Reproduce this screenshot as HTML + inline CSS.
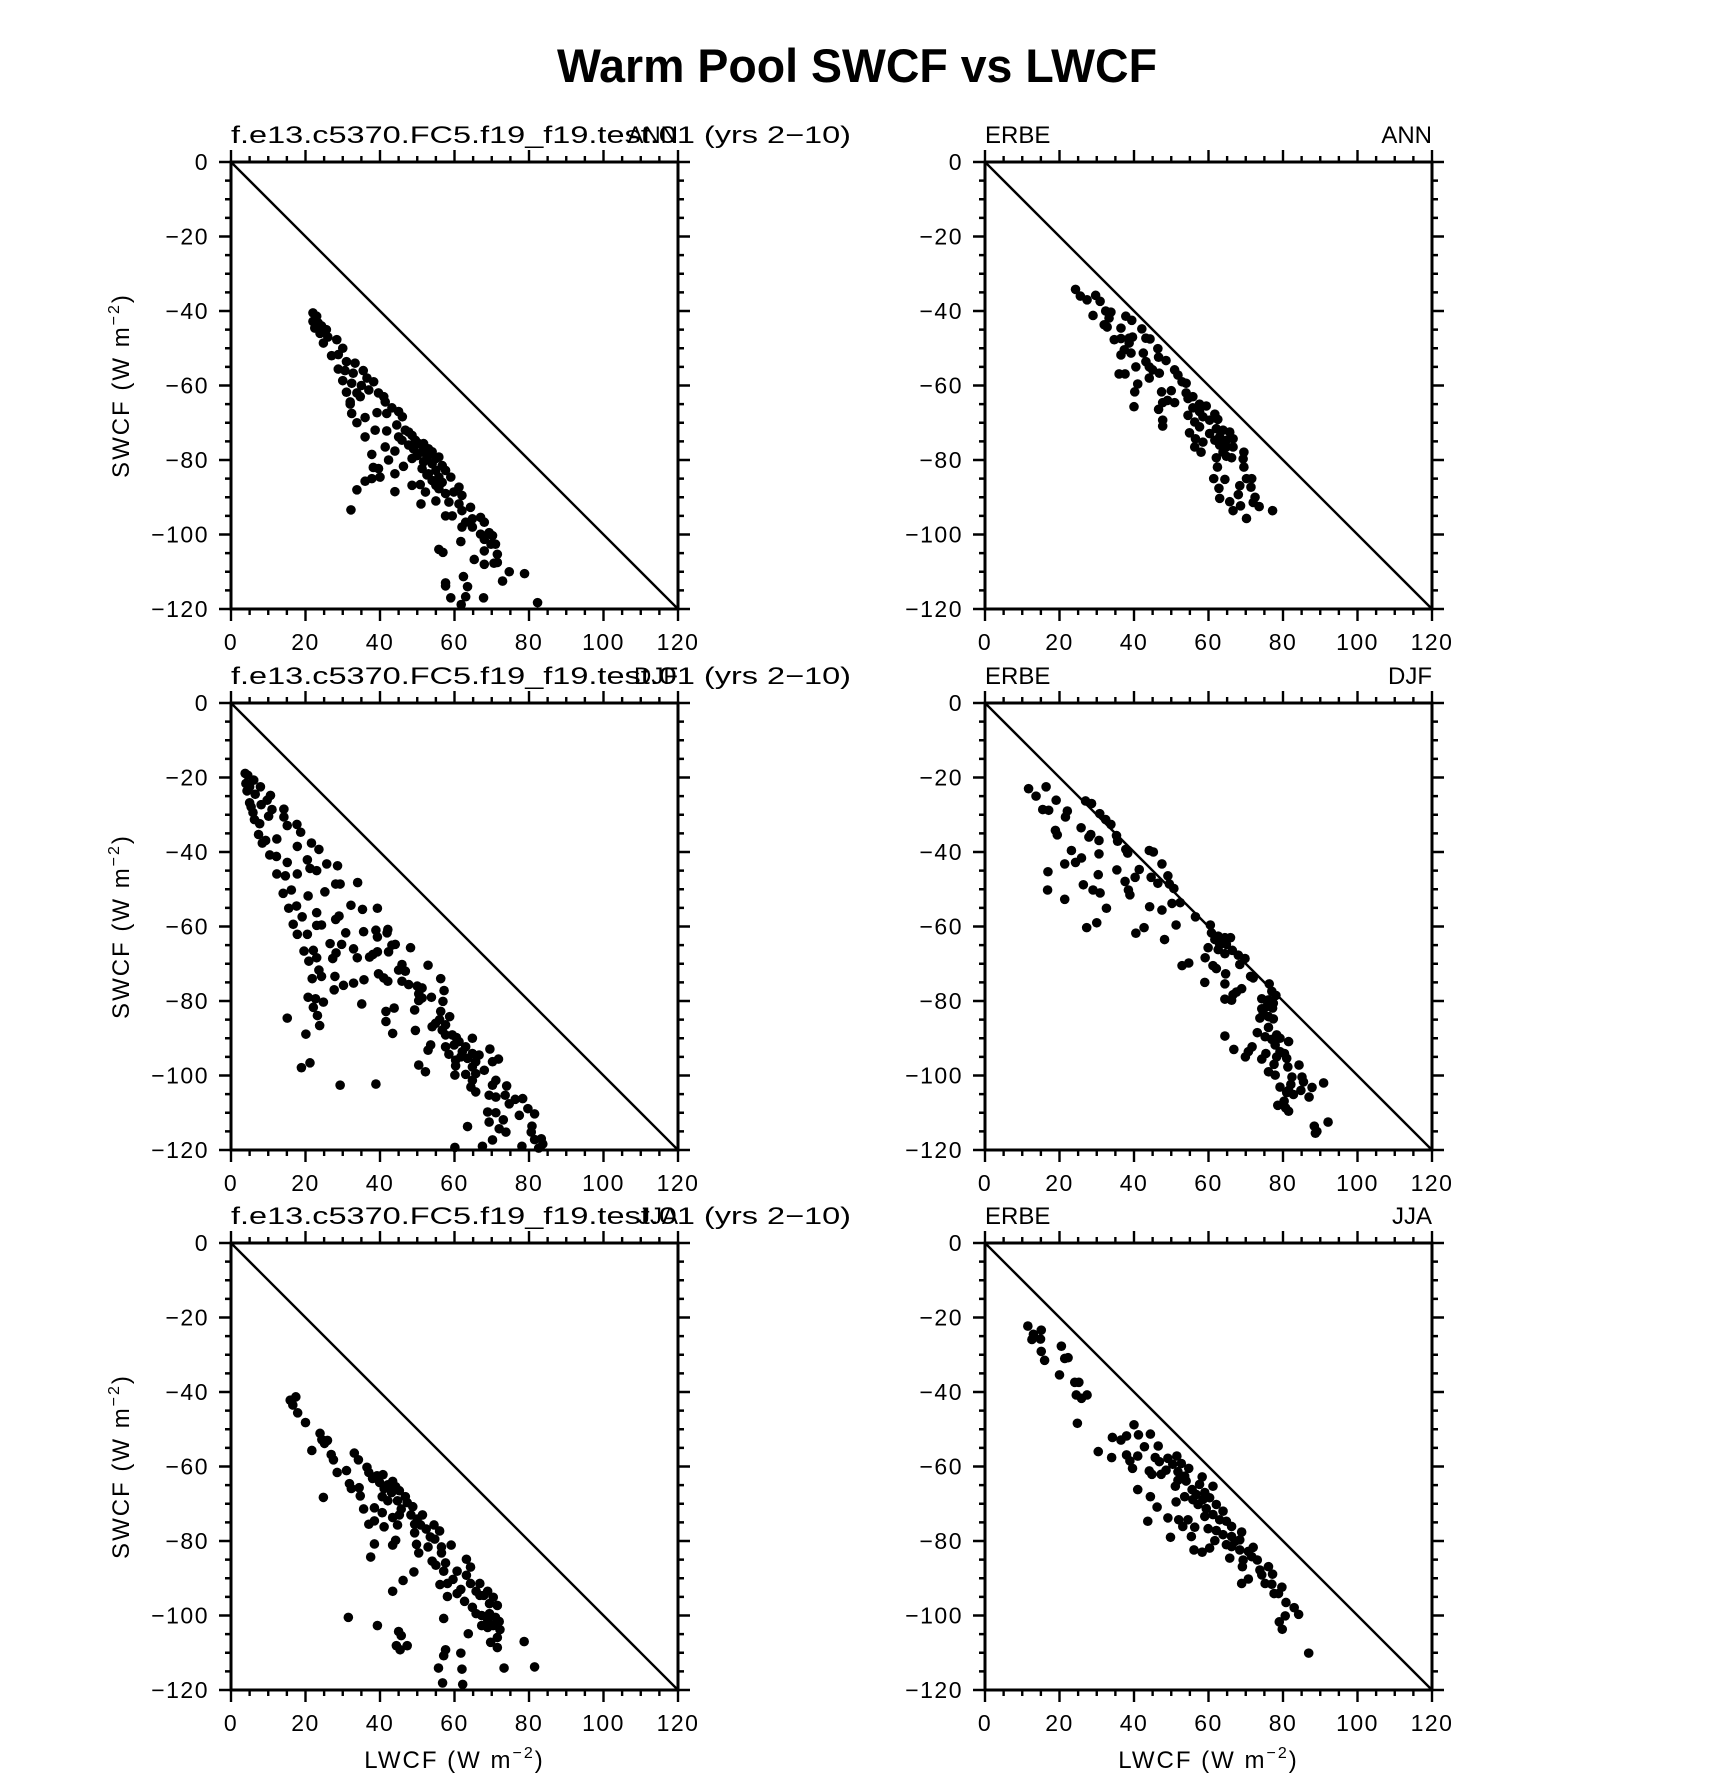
<!DOCTYPE html>
<html><head><meta charset="utf-8"><title>Warm Pool SWCF vs LWCF</title>
<style>html,body{margin:0;padding:0;background:#fff}svg{display:block}text{font-family:"Liberation Sans",sans-serif;fill:#000}</style>
</head><body>
<svg id="fig" xmlns="http://www.w3.org/2000/svg" width="1710" height="1779" viewBox="0 0 1710 1779">
<text x="857" y="82" text-anchor="middle" font-size="47" font-weight="bold" textLength="600" lengthAdjust="spacingAndGlyphs">Warm Pool SWCF vs LWCF</text>
</svg>
<script>
const xTicks=[0,20,40,60,80,100,120];
const yTicks=[0,-20,-40,-60,-80,-100,-120];
const tickLabelsX=["0","20","40","60","80","100","120"];
const tickLabelsY=["0","\u221220","\u221240","\u221260","\u221280","\u2212100","\u2212120"];
const xDomain=[0,120];
const yDomain=[-120,0];
const panelNames=["ann-model","ann-erbe","djf-model","djf-erbe","jja-model","jja-erbe"];
const leftTitles=["f.e13.c5370.FC5.f19_f19.test.01 (yrs 2\u221210)","ERBE","f.e13.c5370.FC5.f19_f19.test.01 (yrs 2\u221210)","ERBE","f.e13.c5370.FC5.f19_f19.test.01 (yrs 2\u221210)","ERBE"];
const rightTitles=["ANN","ANN","DJF","DJF","JJA","JJA"];

const annModel=[[22,-40.5],[23,-41.4],[22,-42.8],[23.4,-43.2],[22.5,-44.6],[24.3,-44],[23.9,-46],[25.6,-45],[26,-47],[24.8,-48.6],[28.4,-47.7],[27,-52],[30,-50],[28.8,-51.7],[31,-53.6],[33.3,-54],[28.8,-55.6],[30.6,-56],[35.5,-56],[32.8,-56.7],[30,-58.7],[32.4,-59.4],[36.5,-58],[38.3,-59],[35,-60],[37,-61.2],[39.6,-62],[31,-61.8],[33.8,-62],[32,-64.4],[34.7,-63],[41,-63],[41.4,-64.4],[43.2,-66],[45,-67],[32,-65],[32.4,-67.5],[39.2,-67.3],[41.8,-67.5],[46,-68.4],[36,-68.6],[33.8,-70],[44.5,-70.6],[38.7,-72],[41.8,-72.2],[46.8,-72],[47.7,-72.5],[45,-73.8],[48.6,-73.4],[36,-73.8],[45.9,-74.7],[49.5,-74.7],[50.4,-75.6],[51.7,-75.6],[47.7,-76],[41.4,-76.5],[49,-77],[53,-77],[51.3,-77.8],[54,-77.8],[44,-77.6],[37.8,-78.5],[50,-78.8],[52.6,-79.2],[55,-79.6],[55.8,-79.2],[48.6,-79.6],[42.3,-80],[51.7,-80.5],[54,-81],[56.7,-81.5],[46.3,-81.7],[38.2,-82],[39.6,-82.3],[51.3,-82.3],[55,-82.8],[57.6,-82.8],[53,-83.7],[44,-83.7],[52.6,-84],[55.8,-84.6],[59,-84.6],[40,-84.6],[37.8,-85],[36,-85.7],[54,-85.5],[56.7,-86],[55,-86.8],[48.6,-86.8],[50.8,-86.6],[61.2,-87.3],[33.8,-88],[44,-88.5],[55.8,-87.7],[52.2,-88.6],[57.6,-89],[59.8,-88.6],[62,-89.5],[55,-91],[58.5,-91.3],[61.2,-91.8],[51,-91.8],[64.3,-92.7],[62,-93.6],[57.6,-95],[59.4,-95],[64.8,-95.8],[67,-95.4],[63,-96.7],[68,-96.7],[62,-98],[64.8,-98],[67,-99.9],[69.3,-99.5],[70.2,-100.3],[68,-101.3],[71,-102.6],[69.8,-102.6],[32.2,-93.4],[61.7,-101.9],[55.8,-104],[56.9,-104.8],[71.5,-105.3],[68,-104.4],[65.3,-106.7],[68,-108],[70.6,-107.7],[71.5,-107.5],[74.7,-110],[78.8,-110.5],[72.9,-112.5],[62.4,-111.3],[57.6,-113],[57.6,-113.8],[63.5,-114],[59,-117],[63,-116.7],[67.8,-117],[61.8,-118.8],[82.3,-118.3]];
const annErbe=[[24.3,-34.2],[25.6,-36],[27.4,-37],[29.7,-35.8],[30.9,-37.4],[29,-41.2],[32.4,-40],[33.8,-40.3],[33.3,-41.9],[32,-43.7],[32.8,-44.3],[37.8,-41.4],[39.4,-42.5],[36.5,-44.6],[42.1,-44.8],[34.7,-47.7],[36.5,-47.4],[38.7,-47.3],[39.6,-47],[43.2,-47.3],[44.3,-47.5],[38.7,-48.6],[37.4,-50.4],[36.5,-51.8],[39.2,-51.3],[42.5,-51.3],[46.4,-50.1],[46.6,-52.4],[48.6,-53.3],[43.2,-53.6],[44.1,-55],[40.5,-55],[45,-55.8],[46.8,-56.7],[44.1,-58],[36,-56.9],[37.6,-56.9],[50.9,-55.8],[51.8,-57.2],[52.9,-59],[54,-59.4],[41,-59.6],[40.2,-61.7],[47.4,-61.7],[50,-61.4],[54,-62],[55.8,-63],[54.5,-63.5],[47.7,-64.6],[49,-64],[50.9,-64.6],[57.6,-65],[59.4,-65.5],[55.8,-66],[40,-65.7],[46.6,-66.4],[57.6,-67],[54.5,-68],[58.5,-68.4],[61.7,-67.7],[60.3,-69.3],[62.5,-69.1],[47.7,-69.3],[47.7,-70.9],[56.3,-69.8],[57.6,-71.1],[62.1,-71.6],[63.9,-72],[65.7,-72.5],[60.3,-72.9],[54.9,-72.7],[63,-73.8],[64.8,-74.7],[66.6,-74.3],[61.7,-74.7],[58.5,-75.2],[56.5,-74.3],[63,-76],[64.8,-76.5],[66.6,-76.5],[56.3,-76.5],[69.5,-77.9],[63.9,-77.9],[58,-77.9],[62.1,-79.4],[66.2,-79.4],[69.3,-79.7],[64.8,-79],[62.4,-81.9],[69.5,-81.9],[61.4,-85],[64.4,-85.2],[70.2,-85],[71.6,-85],[62.8,-87.6],[68.4,-86.9],[71.4,-87.3],[68,-89.3],[63,-90.3],[72.5,-90],[65.7,-91.2],[72,-91.4],[68.6,-92.3],[73.6,-92.5],[66.6,-93.6],[77.2,-93.6],[70.2,-95.7]];
const djfModel=[[3.8,-18.9],[4.5,-19.4],[6.1,-20.7],[4,-21.6],[5,-22.5],[7.9,-22.5],[4.3,-23.6],[6.5,-24.5],[10.6,-24.8],[9.7,-26.1],[5,-26.8],[8.1,-27.3],[5.4,-27.9],[11,-28.6],[14.2,-28.5],[5.9,-29.4],[10.1,-30.4],[14.2,-30.6],[6.3,-31.3],[7.7,-32.4],[15.1,-32.9],[17.7,-32.6],[18.7,-34.7],[7.4,-35.3],[12.3,-36.5],[9.3,-36.9],[8.4,-37.6],[21.6,-37.6],[17.8,-38.5],[23.6,-39.3],[10.4,-40.8],[12.2,-41.2],[15.1,-42.8],[20.5,-42.1],[25.7,-43.2],[28.6,-43.7],[21.2,-44.4],[23,-45],[12.3,-45.9],[14.6,-46.4],[17.8,-45.9],[28.1,-48.6],[29.3,-48.6],[34,-48.2],[16.2,-50.2],[14,-51.1],[25.2,-50.7],[20.7,-51.8],[17.6,-54.5],[15.5,-55.1],[32.2,-54.3],[35.3,-55.4],[39.3,-55.1],[23,-56.3],[19.1,-57.4],[29,-57.2],[28.1,-58.1],[16.7,-59.4],[23,-59.7],[24.3,-59.6],[38.9,-61],[42.1,-60.8],[35.6,-61.4],[30.8,-61.7],[20.5,-62.1],[17.8,-62.1],[41.9,-61.7],[39.3,-62.8],[26.6,-64.6],[29.7,-64.8],[43.2,-65],[44.1,-64.8],[48.2,-65.7],[32.9,-66],[42.3,-66.8],[19.6,-66.6],[22.1,-66.4],[28.2,-67.1],[39.3,-66.8],[38.1,-67.5],[37.2,-68.2],[33.9,-68.4],[23,-68.4],[27.3,-68.6],[20.9,-69.3],[45.9,-70.2],[52.9,-70.4],[45,-71.7],[23.6,-71.7],[46.8,-72],[39.6,-72.7],[24.3,-73.4],[27.9,-73.4],[21.8,-74],[41,-73.8],[42.1,-74.7],[35.7,-74.3],[45.9,-74.7],[56.3,-74],[47.7,-75.6],[50,-76],[32.9,-75.2],[30.2,-75.8],[51.3,-76.5],[27.7,-77],[57.2,-77.2],[50.4,-78.1],[51.3,-79.2],[53.8,-79],[20.7,-79],[22.7,-79.4],[50.4,-79.9],[56.9,-80.1],[24.8,-80.3],[35.1,-80.8],[22.1,-81.7],[43.8,-81.9],[49.3,-82.4],[41.6,-82.8],[56.3,-82.8],[23.2,-83.9],[15.1,-84.6],[58.7,-84.2],[56,-85],[41.6,-85.5],[54.9,-86],[54,-86.9],[57.6,-86.4],[23.8,-86.6],[56.7,-87.8],[49.5,-87.9],[43.4,-88.7],[20.1,-88.9],[57.6,-89.1],[59.4,-89.1],[60.5,-89.8],[64.8,-90],[61.2,-90.9],[59.9,-91.8],[53.6,-91.8],[57.6,-92.3],[63,-92.3],[69.5,-92.9],[52.9,-93.2],[62.1,-93.6],[64.8,-94.1],[66.6,-94.5],[58.5,-94.3],[61.7,-95],[63.5,-95.4],[71.8,-95.6],[60.3,-95.9],[65.7,-96.3],[70.2,-96.3],[50.4,-97.2],[60.3,-97.4],[64.8,-97.7],[68,-98.6],[21.2,-96.6],[18.9,-97.9],[52.2,-99],[63,-99.7],[65.7,-99.5],[60.1,-99.9],[71.1,-101.3],[64.8,-101.3],[29.3,-102.6],[38.9,-102.3],[70.2,-102.6],[64.4,-103.1],[65.7,-104.4],[69.3,-105.3],[74,-102.8],[73.6,-105.3],[71.1,-105.8],[76.3,-106.4],[74.7,-107.6],[78.3,-106.2],[79.7,-108.9],[81.5,-110.3],[68.9,-109.8],[71.1,-110],[77.4,-110.7],[69.3,-112.5],[73.1,-111.9],[63.5,-113.7],[72,-114.3],[73.8,-115.2],[80.8,-113.6],[80.6,-115.2],[70.2,-117.3],[81.5,-117.2],[83.3,-117],[83.7,-118.4],[82.6,-119.5],[60.1,-119.3],[67.5,-119],[78.1,-119]];
const djfErbe=[[11.7,-23],[16.4,-22.5],[13.7,-25],[19.1,-26.1],[15.5,-28.6],[17.1,-28.8],[27,-26.3],[28.6,-27],[22.1,-29],[21.6,-30.6],[30.8,-29.7],[32.4,-31.3],[33.8,-32.6],[18.9,-34.2],[19.4,-35.4],[25.8,-33.5],[28.4,-35.3],[27.9,-36],[30.6,-36.9],[35.3,-35.6],[35.6,-37.1],[37.8,-39.3],[38.3,-40.3],[44.1,-39.6],[45.2,-40],[23.2,-39.6],[30.6,-40.5],[25.9,-41.6],[24.3,-42.8],[21.4,-43.2],[47.5,-43.2],[16.9,-45.3],[35.4,-44.8],[41.4,-44.7],[30.4,-46.1],[40.3,-46.8],[44.6,-46.8],[49.1,-46.4],[37.6,-47.9],[46.4,-48.4],[26.4,-48.8],[49.5,-48.6],[50.7,-49.8],[16.8,-50.2],[29,-50.2],[30.9,-51],[38.5,-50.2],[38.9,-51.5],[21.4,-52.7],[52.4,-53.6],[50.2,-53.8],[32.6,-55.1],[44.2,-54.7],[47.5,-55.6],[56.5,-57.4],[30,-59],[51.3,-59.6],[60.5,-59.6],[27.3,-60.3],[42.7,-60.3],[40.5,-61.8],[60.8,-61.7],[62.6,-62.6],[64.4,-63],[65.9,-63],[61.7,-63.5],[48.2,-63.5],[63,-64.8],[64.8,-64.8],[59.9,-65.7],[62.6,-66.2],[66.4,-66.4],[64.4,-67.3],[68,-67.7],[69.8,-68.6],[59.1,-68.4],[68.4,-70.2],[52.9,-70.5],[54.7,-69.8],[61.2,-70.5],[62.1,-71.3],[64.6,-72.7],[71.3,-73.4],[72,-73.8],[59,-75],[64.4,-75.4],[76.3,-75.4],[68.9,-76.7],[67.5,-77.6],[77,-77.4],[66.6,-78.3],[78.1,-78.5],[74.3,-79.4],[76.1,-79.7],[64.4,-79.5],[66.2,-79.8],[77.4,-80.6],[75.6,-81.5],[74.3,-82.1],[77.2,-81.9],[74.7,-83.3],[76.1,-84.2],[73.8,-84.6],[77.4,-84.8],[76.1,-87.1],[73.1,-88.5],[78.3,-89.1],[75.2,-89.6],[64.4,-89.4],[77,-90.3],[79.2,-90],[81.5,-90.9],[77.9,-91.8],[71.7,-92.3],[66.8,-93],[70.7,-93.6],[79.2,-93.6],[75.4,-94.1],[80.4,-94.1],[69.9,-95],[78.3,-95],[74.3,-95.6],[81,-95.4],[77.6,-97],[81.3,-97.7],[84.3,-97.2],[76.1,-99],[77.9,-99.9],[82.4,-100.4],[85.1,-100.4],[85.5,-101.7],[90.9,-102],[82.1,-102.4],[79.2,-103.1],[87.8,-103.2],[81.5,-104],[84.8,-104],[82.8,-105.1],[81,-104.6],[87,-105.8],[80.3,-106.9],[78.6,-108],[80.7,-108.7],[81.5,-109.6],[92.1,-112.5],[88.4,-113.6],[89.1,-115],[88.7,-115.5]];
const jjaModel=[[15.9,-42.2],[17.4,-41.3],[16.6,-43.5],[17.9,-45.6],[20,-48.2],[23.9,-51.1],[24.4,-52.8],[25.9,-53],[25.1,-53.8],[21.7,-55.7],[26.9,-56.8],[27.5,-58.2],[33.1,-56.4],[34.2,-58.2],[24.8,-68.3],[28.5,-61.6],[31,-61.1],[31.8,-64.6],[32.3,-65.9],[34.4,-65.7],[34.7,-67.9],[36.5,-60.2],[37,-61.6],[38,-63.2],[39.2,-62.5],[40.8,-62.2],[39.9,-64.3],[41.1,-65.9],[42.1,-64.9],[43.4,-64],[44.2,-65.4],[45.2,-66.5],[46.8,-68.1],[43.1,-67],[40.6,-68.1],[42.1,-69.2],[44.7,-69.2],[47.3,-69.7],[48.8,-70.8],[45.7,-71.4],[38.5,-71.1],[35.6,-71.4],[40.6,-72.4],[43.4,-73.7],[45.2,-73],[48.3,-73],[50,-74.1],[51.4,-73],[49.3,-75.5],[50.9,-75.7],[52.4,-76.8],[54.5,-75.7],[56,-77.3],[37,-75.5],[38.5,-74.6],[41.1,-76.2],[44.7,-75.7],[49.3,-77.8],[53.5,-78.9],[54.7,-79.5],[44.2,-79.8],[43.4,-81.1],[38.5,-80.8],[37.5,-84.3],[49.8,-80.9],[50.4,-83.2],[52.9,-81.6],[56.5,-81.6],[59.1,-81.1],[56.5,-83.2],[55,-86.5],[57.6,-85.9],[54,-85.4],[57.1,-88.1],[60.7,-88.1],[63.2,-84.9],[64.3,-87],[63.2,-89.2],[56.1,-91.7],[58.1,-91.4],[59.6,-90.3],[61.7,-93],[60.7,-94.1],[58.1,-94.9],[64.3,-91.4],[66.8,-91.4],[65.8,-93.5],[67.9,-94.6],[68.9,-93.5],[70.4,-95.1],[71.5,-97.3],[69.4,-96.8],[66.8,-94.6],[62.7,-96.2],[64.8,-97.8],[65.8,-99.5],[67.3,-100],[69.4,-99.5],[68.9,-101.1],[71,-100.5],[72,-101.6],[67.3,-102.7],[68.9,-103.2],[70.4,-102.7],[72.2,-103.8],[71.5,-105.9],[69.7,-107.2],[71.5,-108.6],[63.7,-104.9],[57.1,-100.8],[43.4,-93.5],[46.2,-90.6],[49.1,-88.3],[31.5,-100.5],[39.3,-102.7],[44.4,-108.1],[45,-104.3],[45.7,-105.4],[47.3,-108.1],[45.4,-109.2],[57.6,-109.2],[57.1,-110.8],[61.7,-110.1],[55.7,-114.1],[62,-114.4],[73.3,-114.1],[78.7,-107],[81.5,-113.8],[56.8,-118.1],[62.2,-118.5]];
const jjaErbe=[[11.5,-22.3],[13,-24.5],[15.1,-23.4],[12.6,-25.9],[14.9,-25.8],[15.1,-29.1],[16,-31.5],[20.5,-27.7],[21.4,-31],[22.3,-30.8],[20,-35.4],[24.1,-37.4],[25.2,-37.4],[24.5,-40.8],[25.9,-41.7],[27.4,-40.8],[24.8,-48.4],[40,-48.8],[34.2,-52.2],[36.5,-52.9],[38,-51.8],[41.2,-51.5],[44.4,-51.3],[42.8,-54.7],[46.5,-54.5],[30.4,-56],[34,-57.6],[38,-56.9],[38.9,-58.5],[41,-57.2],[39.6,-60.5],[45.7,-57.6],[46.8,-58.7],[49.1,-57.8],[51.5,-57.2],[50.4,-59.4],[52.7,-59.2],[54.7,-60.5],[44.1,-61.2],[44.8,-62.1],[47.3,-62.1],[48.6,-61],[51.8,-61.4],[53.6,-62.6],[51.8,-63.7],[58.3,-62.8],[54,-63.9],[51.1,-65.3],[55.6,-66.2],[57.6,-64.8],[61.2,-65.3],[41,-66.2],[56.7,-67.5],[59,-67],[55.8,-68.9],[58.5,-68.9],[60.3,-68.4],[53.6,-68.1],[44.4,-68.1],[51.3,-69.5],[57.2,-70.2],[62.1,-70.2],[59.4,-71.3],[63.9,-72],[46.2,-70.9],[59,-73.4],[61.2,-72.9],[63,-74.3],[64.8,-74.7],[49.1,-73.8],[52,-74.3],[54.5,-74.3],[53.1,-76.1],[56.3,-76.3],[43.7,-74.7],[59.9,-76.7],[62.1,-77.2],[66.2,-76.1],[68.9,-77.6],[63.9,-78.3],[66.2,-78.8],[61.7,-79.9],[55.4,-78.8],[49.8,-79],[67.1,-80.1],[68.4,-79.7],[64.8,-81],[66.2,-81.5],[72,-81.7],[68.4,-82.4],[70.7,-82.8],[60.3,-81.9],[58.3,-83],[56.1,-82.4],[65.7,-84.6],[69.3,-85.1],[71.6,-84.2],[73.1,-85.1],[76.1,-86.9],[69.1,-86.9],[73.8,-87.8],[74.3,-89.1],[77.2,-88.9],[70.7,-90.2],[68.9,-91.4],[75.2,-91.4],[77,-91.6],[79.7,-92.4],[77.6,-94.1],[78.8,-94.1],[80.8,-96.5],[83,-97.9],[84.2,-99.7],[80.6,-100.1],[79,-101.7],[79.8,-103.7],[86.9,-110.1]];
const seriesList=[annModel,annErbe,djfModel,djfErbe,jjaModel,jjaErbe];

const NS="http://www.w3.org/2000/svg";
const svg=document.getElementById('fig');
const panelLeft=[231,985];
const panelTop=[162,703,1243];
const SIZE=447;
function mk(tag,attrs,parent){const e=document.createElementNS(NS,tag);for(const k in attrs)e.setAttribute(k,attrs[k]);(parent||svg).appendChild(e);return e;}

for(let p=0;p<6;p++){
  const L=panelLeft[p%2], T=panelTop[Math.floor(p/2)];
  const sx=v=>L+(v-xDomain[0])/(xDomain[1]-xDomain[0])*SIZE;
  const sy=v=>T+(yDomain[1]-v)/(yDomain[1]-yDomain[0])*SIZE;
  const g=mk('g',{});
  
  
  // diagonal reference line
  const d=mk('line',{x1:sx(0),y1:sy(0),x2:sx(120),y2:sy(-120),stroke:'#000','stroke-width':2.4},g);
  
  
  // points
  const pts=mk('g',{},g);
  
  
  seriesList[p].forEach(pt=>{
    const c=mk('circle',{cx:sx(pt[0]),cy:sy(pt[1]),r:4.8,fill:'#000'},pts);
    
    
  });
  // frame
  const fr=mk('rect',{x:L,y:T,width:SIZE,height:SIZE,fill:'none',stroke:'#000','stroke-width':3},g);
  
  
  // ticks
  let path='';
  for(let v=0;v<=120;v+=5){
    const len=(v%20===0)?12:6;
    const x=sx(v);
    path+=`M${x},${T+SIZE}v${len}M${x},${T}v${-len}`;
  }
  for(let v=0;v>=-120;v-=5){
    const len=(v%20===0)?12:6;
    const y=sy(v);
    path+=`M${L},${y}h${-len}M${L+SIZE},${y}h${len}`;
  }
  const tk=mk('path',{d:path,stroke:'#000','stroke-width':2.4,fill:'none'},g);
  
  
  xTicks.forEach((v,i)=>{
    const t=mk('text',{x:sx(v),y:T+SIZE+41,'text-anchor':'middle','font-size':23,'letter-spacing':1.5},g);
    t.textContent=tickLabelsX[i];
    
    
  });
  yTicks.forEach((v,i)=>{
    const t=mk('text',{x:L-22,y:sy(v)+8,'text-anchor':'end','font-size':23,'letter-spacing':1.5},g);
    t.textContent=tickLabelsY[i];
    
    
  });
  const lt=mk('text',{x:L,y:T-19,'font-size':24},g);
  lt.textContent=leftTitles[p];
  if(leftTitles[p].length>10){lt.setAttribute('textLength','620');lt.setAttribute('lengthAdjust','spacingAndGlyphs');}
  
  
  const rt=mk('text',{x:L+SIZE,y:T-19,'font-size':24,'text-anchor':'end'},g);
  rt.textContent=rightTitles[p];
  
  
  if(p%2===0){
    const cy=T+SIZE/2;
    const yt=mk('text',{x:0,y:0,'font-size':24,'text-anchor':'middle','letter-spacing':2,transform:`translate(129,${cy}) rotate(-90)`},g);
    yt.innerHTML='SWCF (W m<tspan dy="-10" font-size="16">\u22122</tspan><tspan dy="10">)</tspan>';
    
    
  }
  if(p>=4){
    const xt=mk('text',{x:L+SIZE/2,y:1768,'font-size':24,'text-anchor':'middle','letter-spacing':2},g);
    xt.innerHTML='LWCF (W m<tspan dy="-10" font-size="16">\u22122</tspan><tspan dy="10">)</tspan>';
    
    
  }
}
</script>
</body></html>
